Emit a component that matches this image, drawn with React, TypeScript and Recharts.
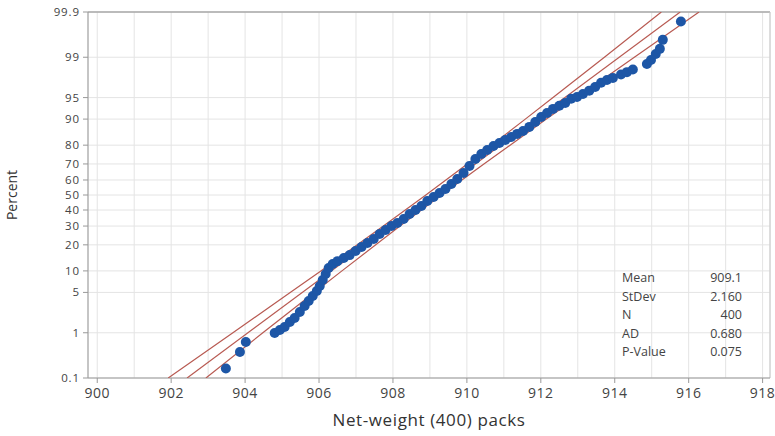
import React from 'react'
import {
  ScatterChart,
  Scatter,
  XAxis,
  YAxis,
  CartesianGrid,
  ReferenceLine,
  Label,
} from 'recharts'

// sorted net weights, with their plotted percent
const weights = [
  903.48, 903.86, 904.02, 904.8, 904.94, 905.07, 905.21, 905.34, 905.48, 905.61,
  905.72, 905.83, 905.94, 906.02, 906.1, 906.18, 906.26, 906.37, 906.5, 906.67,
  906.83, 906.99, 907.15, 907.31, 907.48, 907.64, 907.8, 907.96, 908.12, 908.29,
  908.45, 908.61, 908.77, 908.93, 909.1, 909.26, 909.42, 909.58, 909.74, 909.91,
  910.07, 910.23, 910.39, 910.55, 910.72, 910.88, 911.04, 911.2, 911.36, 911.52,
  911.69, 911.85, 912.01, 912.17, 912.33, 912.5, 912.66, 912.82, 912.98, 913.14,
  913.31, 913.47, 913.63, 913.79, 913.95, 914.17, 914.33, 914.49, 914.87, 914.98,
  915.11, 915.22, 915.3, 915.79,
]
const percents = [
  0.17, 0.4, 0.65, 0.99, 1.13, 1.29, 1.6, 1.89, 2.41, 3.04,
  3.67, 4.4, 5.24, 6.21, 7.55, 9.11, 10.9, 12.2, 13.2, 14.4,
  15.5, 17.2, 19.0, 20.9, 22.9, 25.5, 27.7, 30.0, 31.8, 34.3,
  37.4, 40.0, 42.6, 46.0, 48.7, 51.3, 54.0, 57.4, 60.6, 64.5,
  68.8, 72.8, 75.6, 77.6, 79.6, 81.0, 82.4, 83.6, 84.9, 86.0,
  87.5, 89.1, 90.6, 91.7, 92.7, 93.4, 94.0, 94.8, 95.1, 95.6,
  96.1, 96.6, 97.1, 97.4, 97.6, 97.9, 98.1, 98.3, 98.65, 98.87,
  99.14, 99.32, 99.56, 99.83,
]

// fitted line and confidence bands
const fitPercents = [0.1, 99.9]
const fitWeights = [902.43, 915.77]
const bandPercents = [0.1, 1, 5, 10, 30, 50, 70, 90, 95, 99, 99.9]
const lowerBand = [901.92, 903.67, 905.22, 906.05, 907.74, 908.89, 910.01, 911.58, 912.33, 913.72, 915.26]
const upperBand = [902.94, 904.48, 905.87, 906.62, 908.19, 909.31, 910.46, 912.15, 912.98, 914.53, 916.28]

const xTicks = [900, 902, 904, 906, 908, 910, 912, 914, 916, 918]
const xMinorGrid = [901, 903, 905, 907, 909, 911, 913, 915, 917]
const yTickPercents = [0.1, 1, 5, 10, 20, 30, 40, 50, 60, 70, 80, 90, 95, 99, 99.9]
const yTickLabels = ['0.1', '1', '5', '10', '20', '30', '40', '50', '60', '70', '80', '90', '95', '99', '99.9']

const stats = [
  ['Mean', '909.1'],
  ['StDev', '2.160'],
  ['N', '400'],
  ['AD', '0.680'],
  ['P-Value', '0.075'],
]

// inverse normal cdf (Acklam) for the probability scale
function invNorm(p: number) {
  const a = [-39.69683028665376, 220.9460984245205, -275.9285104469687, 138.357751867269, -30.66479806614716, 2.506628277459239]
  const b = [-54.47609879822406, 161.5858368580409, -155.6989798598866, 66.80131188771972, -13.28068155288572]
  const c = [-0.007784894002430293, -0.3223964580411365, -2.400758277161838, -2.549671010114994, 4.374664141464968, 2.938163982698783]
  const d = [0.007784695709041462, 0.3224671290700398, 2.445134137142996, 3.754408661907416]
  const pl = 0.02425
  if (p < pl) {
    const q = Math.sqrt(-2 * Math.log(p))
    return (((((c[0] * q + c[1]) * q + c[2]) * q + c[3]) * q + c[4]) * q + c[5]) / ((((d[0] * q + d[1]) * q + d[2]) * q + d[3]) * q + 1)
  }
  if (p > 1 - pl) {
    const q = Math.sqrt(-2 * Math.log(1 - p))
    return -(((((c[0] * q + c[1]) * q + c[2]) * q + c[3]) * q + c[4]) * q + c[5]) / ((((d[0] * q + d[1]) * q + d[2]) * q + d[3]) * q + 1)
  }
  const q = p - 0.5
  const r = q * q
  return ((((((a[0] * r + a[1]) * r + a[2]) * r + a[3]) * r + a[4]) * r + a[5]) * q) / (((((b[0] * r + b[1]) * r + b[2]) * r + b[3]) * r + b[4]) * r + 1)
}
const toZ = (pct: number) => invNorm(pct / 100)

const points = weights.map((w, i) => ({ x: w, z: toZ(percents[i]) }))
const fitLine = fitWeights.map((w, i) => ({ x: w, z: toZ(fitPercents[i]) }))
const lowerLine = lowerBand.map((w, i) => ({ x: w, z: toZ(bandPercents[i]) }))
const upperLine = upperBand.map((w, i) => ({ x: w, z: toZ(bandPercents[i]) }))

const yTicks = yTickPercents.map(toZ)
const zMin = toZ(0.1)
const zMax = toZ(99.9)
const xMin = 899.75
const xMax = 918.2

const FONT = '"Open Sans", sans-serif'
const LINE_RED = '#b85a52'
const DOT_BLUE = '#1d56a6'

const Dot = (props: any) => <circle cx={props.cx} cy={props.cy} r={5} fill={DOT_BLUE} />
const NoDot = () => <g />

export default function App() {
  const fmtY = (v: number) => {
    const i = yTicks.findIndex((t) => Math.abs(t - v) < 1e-6)
    return i >= 0 ? yTickLabels[i] : ''
  }

  return (
    <div style={{ position: 'absolute', left: 0, top: 0, width: 775, height: 436, background: '#fff' }}>
      <ScatterChart width={775} height={436} margin={{ top: 12, right: 5, bottom: 0, left: 0 }}>
        <CartesianGrid stroke="#e4e4e4" strokeWidth={1} />
        {xMinorGrid.map((v) => (
          <ReferenceLine key={v} x={v} stroke="#e4e4e4" strokeWidth={1} />
        ))}
        <ReferenceLine y={zMax} stroke="#a8a8a8" strokeWidth={1.5} />
        <ReferenceLine x={xMax} stroke="#c8c8c8" strokeWidth={1} />
        <XAxis
          type="number"
          dataKey="x"
          domain={[xMin, xMax]}
          ticks={xTicks}
          interval={0}
          allowDataOverflow
          height={58}
          stroke="#999"
          tickSize={5}
          tickMargin={5}
          tick={{ fill: '#444', fontSize: 14, fontFamily: FONT, letterSpacing: 0.5 }}
        >
          <Label
            value="Net-weight (400) packs"
            position="insideBottom"
            offset={10}
            style={{ fill: '#333', fontSize: 17, fontFamily: FONT, letterSpacing: 0.6 }}
          />
        </XAxis>
        <YAxis
          type="number"
          dataKey="z"
          domain={[zMin, zMax]}
          ticks={yTicks}
          interval={0}
          allowDataOverflow
          tickFormatter={fmtY}
          width={88}
          stroke="#999"
          tickSize={5}
          tickMargin={3}
          tick={{ fill: '#444', fontSize: 11.5, fontFamily: FONT, letterSpacing: 0.9 }}
        >
          <Label
            value="Percent"
            angle={-90}
            position="insideLeft"
            offset={12}
            style={{ fill: '#333', fontSize: 14, fontFamily: FONT, textAnchor: 'middle' }}
          />
        </YAxis>
        <Scatter data={lowerLine} line={{ stroke: LINE_RED, strokeWidth: 1.2 }} shape={NoDot} isAnimationActive={false} />
        <Scatter data={upperLine} line={{ stroke: LINE_RED, strokeWidth: 1.2 }} shape={NoDot} isAnimationActive={false} />
        <Scatter data={fitLine} line={{ stroke: LINE_RED, strokeWidth: 1.2 }} shape={NoDot} isAnimationActive={false} />
        <Scatter data={points} shape={Dot} isAnimationActive={false} />
      </ScatterChart>
      {stats.map(([k, v], i) => (
        <div
          key={k}
          style={{
            position: 'absolute',
            left: 622,
            top: 269 + i * 18.5,
            width: 120,
            height: 18,
            display: 'flex',
            justifyContent: 'space-between',
            fontFamily: FONT,
            fontSize: 12.5,
            color: '#444',
            lineHeight: '18px',
          }}
        >
          <span>{k}</span>
          <span>{v}</span>
        </div>
      ))}
    </div>
  )
}
